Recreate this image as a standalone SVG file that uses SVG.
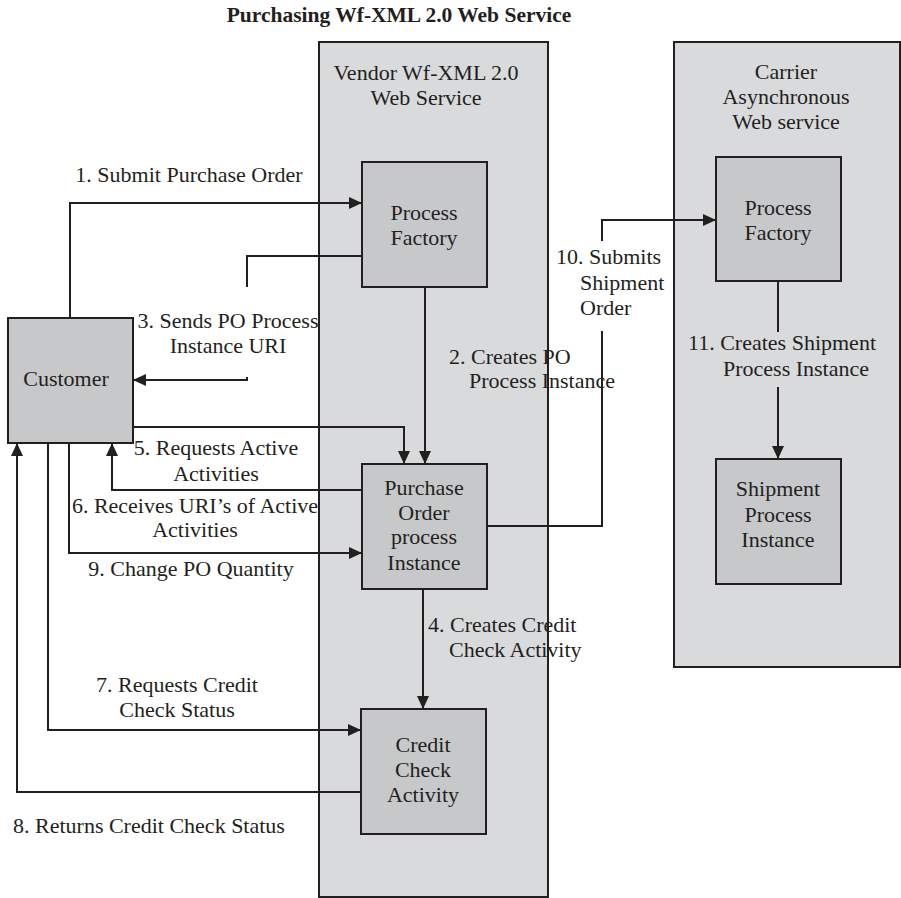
<svg xmlns="http://www.w3.org/2000/svg" width="901" height="898" viewBox="0 0 901 898">
  <style>
    text { font-family: "Liberation Serif", "Times New Roman", serif; font-size: 22px; fill: #231f20; }
    .title { font-weight: bold; font-size: 21.5px; }
    .c { text-anchor: middle; }
    .container { fill: #d9dadc; stroke: #231f20; stroke-width: 2; }
    .box { fill: #c7c8ca; stroke: #231f20; stroke-width: 2; }
    .conn { fill: none; stroke: #231f20; stroke-width: 2; }
  </style>
  <defs>
    <marker id="arrow" markerUnits="userSpaceOnUse" markerWidth="14" markerHeight="12" refX="13" refY="6" orient="auto">
      <path d="M0,0 L13,6 L0,12 z" fill="#231f20"/>
    </marker>
  </defs>
  <rect width="901" height="898" fill="#ffffff"/>

  <text class="title c" x="399" y="22">Purchasing Wf-XML 2.0 Web Service</text>

  <!-- service containers -->
  <g id="vendor-service">
    <rect class="container" x="319" y="42" width="229" height="855"/>
    <text class="c" x="426" y="80">Vendor Wf-XML 2.0</text>
    <text class="c" x="426" y="105">Web Service</text>
  </g>
  <g id="carrier-service">
    <rect class="container" x="674" y="42" width="226" height="625"/>
    <text class="c" x="786" y="79">Carrier</text>
    <text class="c" x="786" y="104">Asynchronous</text>
    <text class="c" x="786" y="129">Web service</text>
  </g>

  <!-- nodes -->
  <g id="customer">
    <rect class="box" x="8" y="318" width="125" height="125"/>
    <text class="c" x="66" y="386">Customer</text>
  </g>
  <g id="vendor-process-factory">
    <rect class="box" x="362" y="162" width="125" height="125"/>
    <text class="c" x="424" y="220">Process</text>
    <text class="c" x="424" y="245">Factory</text>
  </g>
  <g id="po-process-instance">
    <rect class="box" x="362" y="464" width="125" height="125"/>
    <text class="c" x="424" y="495">Purchase</text>
    <text class="c" x="424" y="520">Order</text>
    <text class="c" x="424" y="544">process</text>
    <text class="c" x="424" y="570">Instance</text>
  </g>
  <g id="credit-check-activity">
    <rect class="box" x="361" y="709" width="125" height="125"/>
    <text class="c" x="423" y="752">Credit</text>
    <text class="c" x="423" y="777">Check</text>
    <text class="c" x="423" y="802">Activity</text>
  </g>
  <g id="carrier-process-factory">
    <rect class="box" x="716" y="157" width="125" height="124"/>
    <text class="c" x="778" y="215">Process</text>
    <text class="c" x="778" y="240">Factory</text>
  </g>
  <g id="shipment-process-instance">
    <rect class="box" x="716" y="459" width="125" height="125"/>
    <text class="c" x="778" y="496">Shipment</text>
    <text class="c" x="778" y="522">Process</text>
    <text class="c" x="778" y="547">Instance</text>
  </g>

  <!-- connectors -->
  <g id="connectors">
    <path class="conn" d="M70,318 V203 H362" marker-end="url(#arrow)"/>
    <path class="conn" d="M425,287 V464" marker-end="url(#arrow)"/>
    <path class="conn" d="M362,256 H247 V287"/>
    <path class="conn" d="M247,377 V380 H133" marker-end="url(#arrow)"/>
    <path class="conn" d="M423,589 V709" marker-end="url(#arrow)"/>
    <path class="conn" d="M133,427 H404 V464" marker-end="url(#arrow)"/>
    <path class="conn" d="M362,490 H112 V443" marker-end="url(#arrow)"/>
    <path class="conn" d="M48,443 V730 H361" marker-end="url(#arrow)"/>
    <path class="conn" d="M361,792 H17 V443" marker-end="url(#arrow)"/>
    <path class="conn" d="M69,443 V553 H362" marker-end="url(#arrow)"/>
    <path class="conn" d="M487,526 H602 V331"/>
    <path class="conn" d="M602,241 V220 H716" marker-end="url(#arrow)"/>
    <path class="conn" d="M778,281 V332"/>
    <path class="conn" d="M778,387 V459" marker-end="url(#arrow)"/>
  </g>

  <!-- connector labels -->
  <g id="labels">
    <text class="c" x="189" y="182">1. Submit Purchase Order</text>
    <text x="449" y="364">2. Creates PO</text>
    <text x="469" y="388">Process Instance</text>
    <text class="c" x="228" y="328">3. Sends PO Process</text>
    <text class="c" x="228" y="353">Instance URI</text>
    <text x="428" y="632">4. Creates Credit</text>
    <text x="449" y="657">Check Activity</text>
    <text class="c" x="216" y="455">5. Requests Active</text>
    <text class="c" x="216" y="481">Activities</text>
    <text class="c" x="195" y="513">6. Receives URI’s of Active</text>
    <text class="c" x="195" y="537">Activities</text>
    <text class="c" x="177" y="692">7. Requests Credit</text>
    <text class="c" x="177" y="717">Check Status</text>
    <text x="13" y="833">8. Returns Credit Check Status</text>
    <text class="c" x="191" y="576">9. Change PO Quantity</text>
    <text x="556" y="264">10. Submits</text>
    <text x="580" y="290">Shipment</text>
    <text x="580" y="315">Order</text>
    <text x="688" y="350">11. Creates Shipment</text>
    <text x="723" y="376">Process Instance</text>
  </g>
</svg>
